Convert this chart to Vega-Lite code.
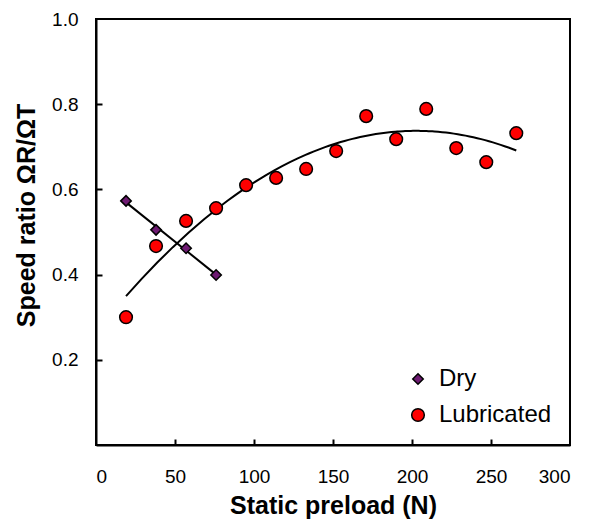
{
  "$schema": "https://vega.github.io/schema/vega-lite/v6.json",
  "autosize": {"type": "none"},
  "width": 474,
  "height": 426,
  "padding": {"left": 96, "top": 19, "right": 19, "bottom": 74},
  "background": "white",
  "config": {
    "font": "Liberation Sans",
    "view": {"stroke": "black", "strokeWidth": 2},
    "axis": {"grid": false, "domainColor": "black", "domainWidth": 2, "tickColor": "black", "tickWidth": 2, "labelColor": "black", "titleColor": "black", "labelFont": "Liberation Sans", "titleFont": "Liberation Sans"}
  },
  "data": {
    "values": [
      {"load": 19, "ratio": 0.573, "condition": "Dry"},
      {"load": 38, "ratio": 0.505, "condition": "Dry"},
      {"load": 57, "ratio": 0.462, "condition": "Dry"},
      {"load": 76, "ratio": 0.399, "condition": "Dry"},
      {"load": 19, "ratio": 0.300, "condition": "Lubricated"},
      {"load": 38, "ratio": 0.467, "condition": "Lubricated"},
      {"load": 57, "ratio": 0.526, "condition": "Lubricated"},
      {"load": 76, "ratio": 0.556, "condition": "Lubricated"},
      {"load": 95, "ratio": 0.610, "condition": "Lubricated"},
      {"load": 114, "ratio": 0.627, "condition": "Lubricated"},
      {"load": 133, "ratio": 0.648, "condition": "Lubricated"},
      {"load": 152, "ratio": 0.690, "condition": "Lubricated"},
      {"load": 171, "ratio": 0.772, "condition": "Lubricated"},
      {"load": 190, "ratio": 0.718, "condition": "Lubricated"},
      {"load": 209, "ratio": 0.789, "condition": "Lubricated"},
      {"load": 228, "ratio": 0.697, "condition": "Lubricated"},
      {"load": 247, "ratio": 0.664, "condition": "Lubricated"},
      {"load": 266, "ratio": 0.732, "condition": "Lubricated"}
    ]
  },
  "resolve": {"axis": {"x": "independent", "y": "independent"}},
  "layer": [
    {
      "transform": [{"filter": "datum.condition === 'Dry'"}, {"regression": "ratio", "on": "load", "method": "linear"}],
      "mark": {"type": "line", "color": "black", "strokeWidth": 2},
      "encoding": {
        "x": {"field": "load", "type": "quantitative", "scale": {"domain": [0, 300], "nice": false},
          "axis": {"orient": "bottom", "title": null, "labels": false, "domain": false, "ticks": true, "tickSize": 6, "offset": -6, "values": [50, 100, 150, 200, 250]}},
        "y": {"field": "ratio", "type": "quantitative", "scale": {"domain": [0, 1], "nice": false},
          "axis": {"orient": "left", "title": null, "labels": false, "domain": false, "ticks": true, "tickSize": 6, "offset": -6, "values": [0.2, 0.4, 0.6, 0.8]}}
      }
    },
    {
      "transform": [{"filter": "datum.condition === 'Lubricated'"}, {"regression": "ratio", "on": "load", "method": "poly", "order": 2}],
      "mark": {"type": "line", "color": "black", "strokeWidth": 2},
      "encoding": {
        "x": {"field": "load", "type": "quantitative", "axis": null},
        "y": {"field": "ratio", "type": "quantitative", "axis": null}
      }
    },
    {
      "mark": {"type": "point", "filled": true, "stroke": "black", "strokeWidth": 1.5, "opacity": 1},
      "encoding": {
        "x": {"field": "load", "type": "quantitative",
          "axis": {"orient": "bottom", "title": "Static preload (N)", "values": [0, 50, 100, 150, 200, 250, 300], "ticks": false, "labelPadding": 22, "labelFontSize": 19, "titleFontSize": 25, "titleFontWeight": "bold", "titlePadding": 7}},
        "y": {"field": "ratio", "type": "quantitative",
          "axis": {"orient": "left", "title": "Speed ratio ΩR/ΩT", "values": [0.2, 0.4, 0.6, 0.8, 1.0], "format": ".1f", "ticks": false, "labelPadding": 18, "labelFontSize": 19, "titleFontSize": 25, "titleFontWeight": "bold", "titlePadding": 12, "titleY": 196}},
        "color": {"field": "condition", "type": "nominal", "scale": {"domain": ["Dry", "Lubricated"], "range": ["#6E1A72", "#FF0000"]}, "legend": {"title": null, "orient": "bottom-right", "offset": 18, "labelFontSize": 24, "symbolStrokeColor": "black", "symbolStrokeWidth": 1.5, "rowPadding": 12, "labelOffset": 9}},
        "shape": {"field": "condition", "type": "nominal", "scale": {"domain": ["Dry", "Lubricated"], "range": ["diamond", "circle"]}, "legend": null},
        "size": {"field": "condition", "type": "nominal", "scale": {"domain": ["Dry", "Lubricated"], "range": [110, 160]}, "legend": null}
      }
    }
  ]
}
